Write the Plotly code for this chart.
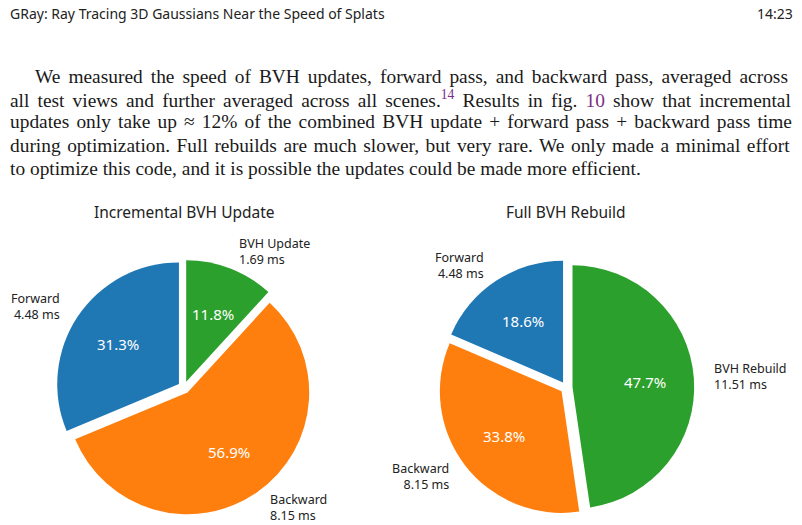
import math
import plotly.graph_objects as go

# ---------------- data ----------------
inc_labels = ["Forward", "Backward", "BVH Update"]
inc_values = [4.48, 8.15, 1.69]
full_labels = ["Forward", "Backward", "BVH Rebuild"]
full_values = [4.48, 8.15, 11.51]
colors = ["#1f77b4", "#ff7f0e", "#2ca02c"]
titles = ["Incremental BVH Update", "Full BVH Rebuild"]

header_left = "GRay: Ray Tracing 3D Gaussians Near the Speed of Splats"
header_right = "14:23"
LINK = "#7b2f86"
body_lines = [
    "We measured the speed of BVH updates, forward pass, and backward pass, averaged across",
    "all test views and further averaged across all scenes.<sup><span style='color:%s'>14</span></sup> Results in fig. <span style='color:%s'>10</span> show that incremental" % (LINK, LINK),
    "updates only take up ≈ 12% of the combined BVH update + forward pass + backward pass time",
    "during optimization. Full rebuilds are much slower, but very rare. We only made a minimal effort",
    "to optimize this code, and it is possible the updates could be made more efficient.",
]

# ---------------- layout / style constants ----------------
W, H = 802, 525
PULL = 0.05
R = 121.7                     # pie radius in px
LABEL_DIST = 1.15
PCT_DIST = 0.6
centers = [(184.0, 387.5), (566.4, 387.5)]
SANS = "Noto Sans"
SERIF = "Liberation Serif"
BODY_SIZE = 19.4
word_spacing = [3.2, 3.3, 2.3, 1.7, 0]   # emulate justified paragraph

fig = go.Figure()
annotations = []


def px2paper(x, y):
    return x / W, 1 - y / H


for (labels, values), (cx, cy), title in zip(
    [(inc_labels, inc_values), (full_labels, full_values)], centers, titles
):
    half = R * (1 + PULL)
    dx0, dy0 = px2paper(cx - half, cy + half)
    dx1, dy1 = px2paper(cx + half, cy - half)
    # matplotlib order: counterclockwise from 12 o'clock == clockwise of reversed list
    fig.add_trace(
        go.Pie(
            labels=labels[::-1],
            values=values[::-1],
            sort=False,
            direction="clockwise",
            rotation=0,
            pull=[PULL] * len(values),
            marker=dict(colors=colors[::-1], line=dict(width=0)),
            textinfo="none",
            hoverinfo="label+value+percent",
            showlegend=False,
            domain=dict(x=[dx0, dx1], y=[dy0, dy1]),
        )
    )
    total = sum(values)
    start = 0.0  # degrees counterclockwise from 12 o'clock
    for lab, v in zip(labels, values):
        frac = v / total
        mid = math.radians(start + frac * 360 / 2)
        start += frac * 360
        ux, uy = -math.sin(mid), -math.cos(mid)  # screen direction (y down)
        ox, oy = cx + PULL * R * ux, cy + PULL * R * uy
        # percentage
        px, py = ox + PCT_DIST * R * ux, oy + PCT_DIST * R * uy
        X, Y = px2paper(px, py)
        annotations.append(dict(
            x=X, y=Y, xref="paper", yref="paper", showarrow=False,
            text="%.1f%%" % (frac * 100), xanchor="center", yanchor="middle",
            font=dict(family=SANS, size=15, color="white"),
        ))
        # outside label
        lx, ly = ox + LABEL_DIST * R * ux, oy + LABEL_DIST * R * uy
        X, Y = px2paper(lx, ly)
        side = "left" if ux > 0 else "right"
        annotations.append(dict(
            x=X, y=Y, xref="paper", yref="paper", showarrow=False,
            text="%s<br>%.2f ms" % (lab, v), xanchor=side, align=side,
            yanchor="middle",
            font=dict(family=SANS, size=12.5, color="#222222"),
        ))
    X, Y = px2paper(cx, 212)
    annotations.append(dict(
        x=X, y=Y, xref="paper", yref="paper", showarrow=False, text=title,
        xanchor="center", yanchor="middle",
        font=dict(family=SANS, size=15.5, color="#222222"),
    ))

# header
X, Y = px2paper(8, 13)
annotations.append(dict(x=X, y=Y, xref="paper", yref="paper", showarrow=False,
                        text=header_left, xanchor="left", yanchor="middle",
                        font=dict(family=SANS, size=14, color="#222222")))
X, Y = px2paper(795, 13)
annotations.append(dict(x=X, y=Y, xref="paper", yref="paper", showarrow=False,
                        text=header_right, xanchor="right", yanchor="middle",
                        font=dict(family=SANS, size=14, color="#222222")))

# body paragraph
for i, line in enumerate(body_lines):
    x0 = 33 if i == 0 else 8
    X, Y = px2paper(x0, 76 + 23 * i)
    txt = "<span style='word-spacing:%.1fpx'>%s</span>" % (word_spacing[i], line)
    annotations.append(dict(x=X, y=Y, xref="paper", yref="paper", showarrow=False,
                            text=txt, xanchor="left", yanchor="middle",
                            font=dict(family=SERIF, size=BODY_SIZE, color="#1a1a1a")))

fig.update_layout(
    width=W, height=H,
    margin=dict(l=0, r=0, t=0, b=0),
    paper_bgcolor="white", plot_bgcolor="white",
    annotations=annotations,
)
fig.write_html("out.html")
